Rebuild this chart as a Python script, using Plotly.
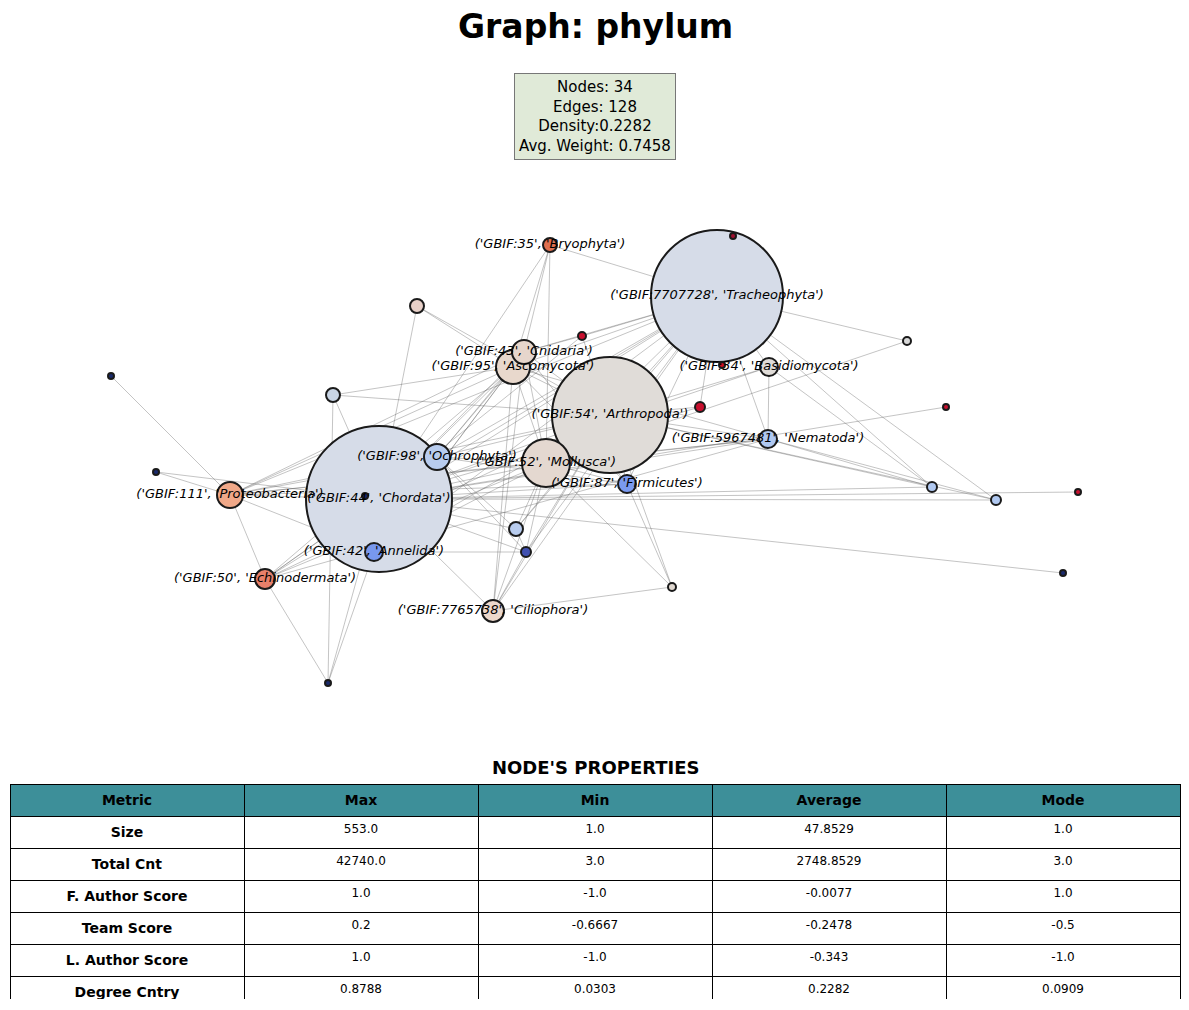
import plotly.graph_objects as go

node_labels = ["('GBIF:7707728', 'Tracheophyta')","('GBIF:54', 'Arthropoda')","('GBIF:44', 'Chordata')",
 "('GBIF:52', 'Mollusca')","('GBIF:95', 'Ascomycota')","('GBIF:43', 'Cnidaria')","('GBIF:98', 'Ochrophyta')",
 "('GBIF:111', 'Proteobacteria')","('GBIF:50', 'Echinodermata')","('GBIF:42', 'Annelida')","('GBIF:7765738', 'Ciliophora')",
 "('GBIF:87', 'Firmicutes')","('GBIF:5967481', 'Nematoda')","('GBIF:34', 'Basidiomycota')","('GBIF:35', 'Bryophyta')"] + [""]*19
node_x = [717,610,379,546,513,524,437,230,265,374,493,627,768,769,550,733,417,582,722,700,907,946,333,111,156,365,516,526,672,932,996,1078,1063,328]
node_y = [296,415,499,463,367,352,457,495,579,552,611,484,439,367,245,236,306,336,365,407,341,407,395,376,472,496,529,552,587,487,500,492,573,683]
node_r = [66,58,73,24,17,12,13,13,10,9,11,9,9,9,7,3,7,4,3,5,4,3,7,3,3,3,7,5,4,5,5,3,3,3]
node_c = ["#d6dce8","#e0dcd8","#d6dce8","#e4d8d0","#e8d8cc","#e6d6cc","#b8ccee","#f0a888","#e8806a","#7898ee",
 "#ecd8cc","#7a9af0","#b0c8f0","#e0dcd8","#e07050","#a01030","#e8d0c8","#c8102e","#d01020","#c8102e",
 "#d8d8d8","#c8102e","#c8d4e4","#1a2a6c","#1a2a6c","#1a2a6c","#b8ccee","#4050b0","#e0d8d0","#b0c8f0",
 "#b0c8f0","#c8102e","#1a2a6c","#1a2a6c"]

hub_edges = {
 2:[0,1,3,4,5,6,7,8,9,10,11,12,13,14,16,17,19,21,22,24,25,26,27,29,30,31,32,33],
 0:[1,3,4,5,6,7,11,12,13,14,15,17,18,19,20,26,27,29,30,8,9,10],
 1:[3,4,5,6,7,8,9,10,11,12,13,17,19,26,27,29,30,22,16,28],
 3:[4,5,6,7,8,9,10,11,12,26,27,28,20,14],
 4:[5,6,7,8,9,10,11,12,22,16,14],
 5:[6,7,9,10,14,17,11],
 6:[7,8,9,11,26,27],
 7:[23,8,9,11,12,24],
}
extra_edges = [(33,8),(33,9),(33,22),(12,29),(12,30),(13,12),(13,29),(9,27),(10,27),(10,28),(11,28),(8,12),(26,27),(25,9)]
edges = [(a,b) for a,bs in hub_edges.items() for b in bs] + extra_edges

metrics = ["Size","Total Cnt","F. Author Score","Team Score","L. Author Score","Degree Cntry","Betweenness",
 "Closeness Cntry","Eigenv. Cntry","N Connectivity","Strength","Avg Weight"]
col_max = ["553.0","42740.0","1.0","0.2","1.0","0.8788","0.2956","0.8919","0.3758","27.5","1132.0","24104.0"]
col_min = ["1.0","3.0","-1.0","-0.6667","-1.0","0.0303","0.0","0.44","0.029","7.5862","2.0","46.0"]
col_avg = ["47.8529","2748.8529","-0.0077","-0.2478","-0.343","0.2282","0.0257","0.5621","0.1457","17.984","124.9412","2784.4118"]
col_mode = ["1.0","3.0","1.0","-0.5","-1.0","0.0909","0.0","0.5","0.0295","20.0","6.0","52.0"]

W, H, OFF = 1173, 994, 8

ex, ey = [], []
for a, b in edges:
    ex += [node_x[a], node_x[b], None]
    ey += [node_y[a], node_y[b], None]

fig = go.Figure()
fig.add_trace(go.Scatter(x=ex, y=ey, mode="lines", line=dict(color="rgba(90,90,90,0.6)", width=0.6), hoverinfo="skip"))
order = sorted(range(len(node_x)), key=lambda i: -node_r[i])
fig.add_trace(go.Scatter(x=[node_x[i] for i in order], y=[node_y[i] for i in order], mode="markers",
    marker=dict(size=[2*node_r[i] for i in order], color=[node_c[i] for i in order],
                line=dict(color="#1a1a1a", width=2), opacity=1)))
fig.add_trace(go.Scatter(x=node_x, y=node_y, mode="text", text=[f"<i>{t}</i>" for t in node_labels],
    textfont=dict(family="DejaVu Sans", size=13, color="black")))

fig.add_trace(go.Table(domain=dict(x=[(10-OFF)/W, (1180-OFF)/W], y=[(OFF+H-1000)/H, (OFF+H-784)/H]),
    columnwidth=[1,1,1,1,1],
    header=dict(values=["<b>Metric</b>","<b>Max</b>","<b>Min</b>","<b>Average</b>","<b>Mode</b>"],
        fill_color="#3d8f99", line_color="black", height=17, align="center",
        font=dict(family="DejaVu Sans", size=14, color="black")),
    cells=dict(values=[[f"<b>{m}</b>" for m in metrics], col_max, col_min, col_avg, col_mode],
        fill_color="white", line_color="black", height=17, align="center",
        font=dict(family="DejaVu Sans", size=[14,12,12,12,12], color="black"))))

fig.update_layout(width=W, height=H, margin=dict(l=0, r=0, t=0, b=0), showlegend=False,
    plot_bgcolor="white", paper_bgcolor="white",
    xaxis=dict(range=[OFF, OFF+W], visible=False, domain=[0,1]),
    yaxis=dict(range=[OFF+H, OFF], visible=False, domain=[0,1]),
    font=dict(family="DejaVu Sans"),
    annotations=[
        dict(x=595, y=26, xref="x", yref="y", text="<b>Graph: phylum</b>", showarrow=False, font=dict(size=33, color="black")),
        dict(x=595, y=116, xref="x", yref="y", text="Nodes: 34<br>Edges: 128<br>Density:0.2282<br>Avg. Weight: 0.7458",
             showarrow=False, font=dict(size=15, color="black"), bgcolor="#e0ead8", bordercolor="#777", borderwidth=1, borderpad=4),
        dict(x=595, y=767, xref="x", yref="y", text="<b>NODE'S PROPERTIES</b>", showarrow=False, font=dict(size=18, color="black")),
    ])
fig.write_html("out.html")
